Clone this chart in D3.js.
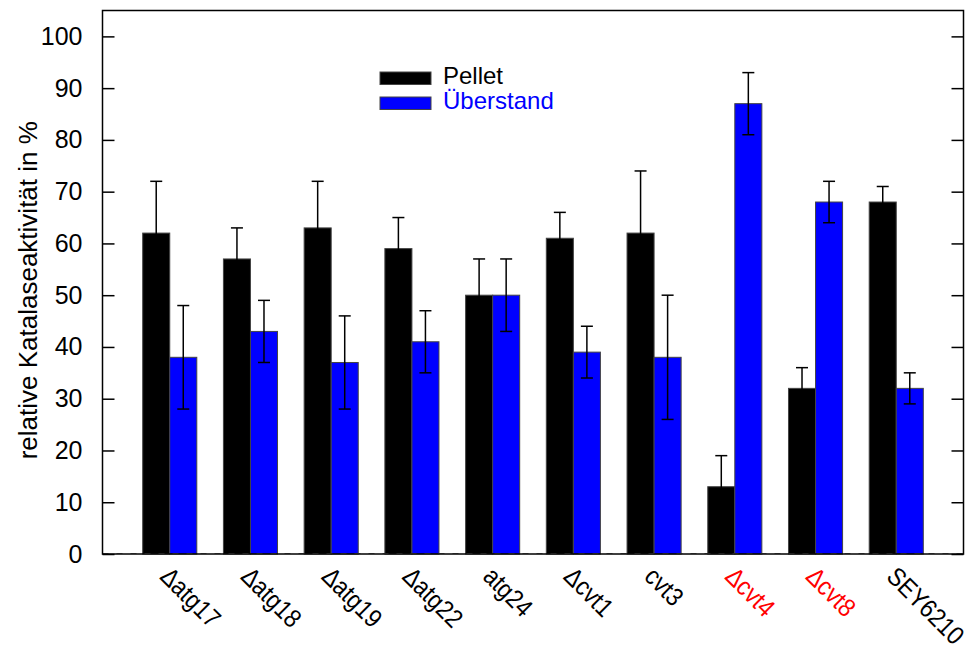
<!DOCTYPE html>
<html>
<head>
<meta charset="utf-8">
<script src="https://cdn.jsdelivr.net/npm/d3@7"></script>
<style>
  html, body { margin: 0; padding: 0; background: #fff; }
  svg { display: block; font-family: "Liberation Sans", Arial, Helvetica, sans-serif; }
</style>
</head>
<body>
<svg id="chart" width="976" height="653"></svg>
<script>
// ---- data ----
const categories = ["\u0394atg17", "\u0394atg18", "\u0394atg19", "\u0394atg22", "atg24",
                    "\u0394cvt1", "cvt3", "\u0394cvt4", "\u0394cvt8", "SEY6210"];
const highlighted = ["\u0394cvt4", "\u0394cvt8"];
const pellet      = [62, 57, 63, 59, 50, 61, 62, 13, 32, 68];
const pelletErr   = [10, 6, 9, 6, 7, 5, 12, 6, 4, 3];
const ueberstand  = [38, 43, 37, 41, 50, 39, 38, 87, 68, 32];
const ueberErr    = [10, 6, 9, 6, 7, 5, 12, 6, 4, 3];
const yTicks      = [0, 10, 20, 30, 40, 50, 60, 70, 80, 90, 100];
const seriesNames = ["Pellet", "\u00dcberstand"];
const seriesColors = ["#000000", "#0000ff"];
const yLabel = "relative Katalaseaktivit\u00e4t in %";

// ---- layout ----
const svg = d3.select("#chart");
const L = 102.5, R = 963.5, T = 10.5, B = 554;
const x = d3.scaleLinear().domain([-0.833, 9.833]).range([L, R]);
const y = d3.scaleLinear().domain([0, 105]).range([B, T]);
const bw = 0.335; // bar width in x units

const series = [
  { name: seriesNames[0], values: pellet, err: pelletErr, color: seriesColors[0], off: -bw },
  { name: seriesNames[1], values: ueberstand, err: ueberErr, color: seriesColors[1], off: 0 }
];

// bars
series.forEach(s => {
  svg.append("g").selectAll("rect").data(s.values).join("rect")
    .attr("x", (d, i) => x(i + s.off))
    .attr("width", x(bw) - x(0))
    .attr("y", d => y(d))
    .attr("height", d => y(0) - y(d))
    .attr("fill", s.color)
    .attr("stroke", "#444")
    .attr("stroke-width", 1);
});

// zero line, dashed gray (gnuplot style)
svg.append("line").attr("x1", L).attr("x2", R).attr("y1", B - 0.5).attr("y2", B - 0.5)
  .attr("stroke", "#888").attr("stroke-width", 1).attr("stroke-dasharray", "6,8");

// error bars
const cap = 6;
series.forEach(s => {
  const g = svg.append("g").attr("stroke", "#000").attr("stroke-width", 1.5).attr("fill", "none");
  s.values.forEach((v, i) => {
    const cx = x(i + s.off + bw / 2);
    const y1 = y(v + s.err[i]), y0 = y(v - s.err[i]);
    g.append("line").attr("x1", cx).attr("x2", cx).attr("y1", y1).attr("y2", y0);
    g.append("line").attr("x1", cx - cap).attr("x2", cx + cap).attr("y1", y1).attr("y2", y1);
    g.append("line").attr("x1", cx - cap).attr("x2", cx + cap).attr("y1", y0).attr("y2", y0);
  });
});

// frame
svg.append("rect").attr("x", L).attr("y", T).attr("width", R - L).attr("height", B - T)
  .attr("fill", "none").attr("stroke", "#000").attr("stroke-width", 1.5);

// y axis (left, ticks inward)
const yAxisL = d3.axisLeft(y).tickValues(yTicks).tickSize(-12).tickPadding(22);
const gL = svg.append("g").attr("transform", `translate(${L},0)`).call(yAxisL);
gL.select(".domain").remove();
gL.selectAll(".tick line").attr("stroke", "#000").attr("stroke-width", 1.5);
gL.selectAll(".tick text").attr("font-size", 25).attr("fill", "#000")
  .attr("font-family", "'Liberation Sans', Arial, sans-serif").attr("dx", "2");

// y axis mirror (right, ticks inward)
const yAxisR = d3.axisRight(y).tickValues(yTicks).tickSize(-12).tickFormat("");
const gR = svg.append("g").attr("transform", `translate(${R},0)`).call(yAxisR);
gR.select(".domain").remove();
gR.selectAll(".tick line").attr("stroke", "#000").attr("stroke-width", 1.5);

// y label
svg.append("text")
  .attr("transform", `translate(37,${(T + B) / 2 + 8}) rotate(-90)`)
  .attr("text-anchor", "middle")
  .attr("font-size", 26)
  .attr("fill", "#000")
  .text(yLabel);

// x labels rotated
svg.append("g").selectAll("text").data(categories).join("text")
  .attr("transform", (d, i) => `translate(${x(i) - 11},578) rotate(45) scale(0.88,1)`)
  .attr("text-anchor", "start")
  .attr("font-size", 26)
  .attr("fill", d => highlighted.includes(d) ? "#ff0000" : "#000")
  .text(d => d);

// legend
const lg = svg.append("g");
series.forEach((s, i) => {
  lg.append("rect").attr("x", 380).attr("y", 72 + i * 25).attr("width", 51).attr("height", 12.5)
    .attr("fill", s.color).attr("stroke", "#444").attr("stroke-width", 1);
  lg.append("text").attr("x", 443).attr("y", 84 + i * 25)
    .attr("font-size", 24).attr("fill", s.color).text(s.name);
});
</script>
</body>
</html>
